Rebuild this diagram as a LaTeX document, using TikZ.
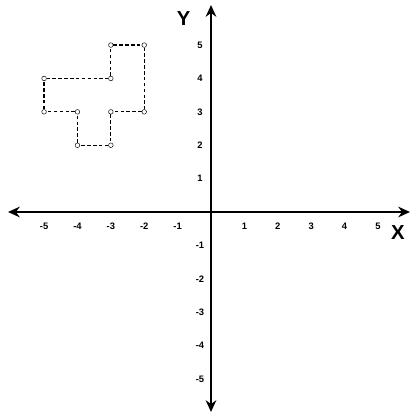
\documentclass[tikz,border=0pt]{standalone}
\usepackage{fontspec}
\setmainfont{Liberation Sans}
\usetikzlibrary{arrows.meta}
\begin{document}
\begin{tikzpicture}
  [axis/.style={line width=2.2pt,{Stealth[length=10pt,width=9pt]}-{Stealth[length=10pt,width=9pt]}},
   edge/.style={densely dashed,line width=1pt},
   every node/.style={font=\footnotesize\bfseries}]
  \useasboundingbox (-6.32,-6.08) rectangle (6.02,6.35);
  \coordinate (xl) at (-6.08,0);
  \coordinate (xr) at (5.96,0);
  \coordinate (yt) at (0,6.2);
  \coordinate (yb) at (0,-5.99);
  \draw[axis] (xl) -- (xr);
  \draw[axis] (yb) -- (yt);
  \node[font=\LARGE\bfseries] (ylab) at (-0.82,5.8) {Y};
  \node[font=\LARGE\bfseries] (xlab) at (5.6,-0.6) {X};

  \foreach \i in {-5,...,-1,1,2,...,5} {
    \node (tx\i) at (\i,-0.42) {\i};
    \node (ty\i) at (-0.33,\i) {\i};
  }

  \foreach \name/\pos in {p1/{(-3,5)},p2/{(-2,5)},p3/{(-2,3)},p4/{(-3,3)},
                          p5/{(-3,2)},p6/{(-4,2)},p7/{(-4,3)},p8/{(-5,3)},
                          p9/{(-5,4)},p10/{(-3,4)}}
    \node[circle,draw,thin,inner sep=1.4pt] (\name) at \pos {};

  \foreach \from/\to in {p1/p2,p2/p3,p3/p4,p4/p5,p5/p6,p6/p7,p7/p8,p8/p9,p9/p10,p10/p1}
    \draw[edge] (\from) -- (\to);
\end{tikzpicture}
\end{document}
